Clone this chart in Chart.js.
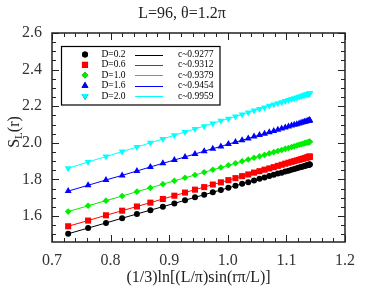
<!DOCTYPE html>
<html>
<head>
<meta charset="utf-8">
<script src="https://cdn.jsdelivr.net/npm/chart.js@4.4.0/dist/chart.umd.min.js"></script>
<style>
  html, body { margin: 0; padding: 0; background: #fff; }
</style>
</head>
<body>
<canvas id="chart" width="382" height="295"></canvas>
<script>
// x = (1/3)ln[(L/pi)sin(r pi/L)] (40 points per series)
const xVals = [0.7276, 0.7616, 0.7921, 0.8197, 0.8449, 0.8679, 0.8892, 0.9088, 0.9270, 0.9440,
               0.9597, 0.9744, 0.9882, 1.0010, 1.0131, 1.0244, 1.0349, 1.0448, 1.0541, 1.0627,
               1.0708, 1.0784, 1.0854, 1.0919, 1.0980, 1.1036, 1.1088, 1.1135, 1.1178, 1.1217,
               1.1252, 1.1283, 1.1311, 1.1334, 1.1354, 1.1370, 1.1383, 1.1392, 1.1397, 1.1399];

const sD02 = [1.503, 1.534, 1.562, 1.588, 1.611, 1.632, 1.651, 1.669, 1.686, 1.702,
              1.716, 1.730, 1.742, 1.754, 1.765, 1.776, 1.785, 1.794, 1.803, 1.811,
              1.818, 1.825, 1.832, 1.837, 1.843, 1.848, 1.853, 1.857, 1.861, 1.865,
              1.868, 1.871, 1.873, 1.876, 1.877, 1.879, 1.880, 1.881, 1.881, 1.882];
const sD06 = [1.544, 1.575, 1.604, 1.629, 1.652, 1.673, 1.693, 1.711, 1.728, 1.744,
              1.758, 1.772, 1.784, 1.796, 1.807, 1.818, 1.827, 1.837, 1.845, 1.853,
              1.860, 1.867, 1.874, 1.880, 1.886, 1.891, 1.896, 1.900, 1.904, 1.907,
              1.911, 1.913, 1.916, 1.918, 1.920, 1.922, 1.923, 1.924, 1.924, 1.924];
const sD10 = [1.624, 1.656, 1.684, 1.709, 1.733, 1.754, 1.774, 1.792, 1.809, 1.824,
              1.839, 1.853, 1.865, 1.877, 1.888, 1.899, 1.909, 1.918, 1.926, 1.934,
              1.942, 1.949, 1.955, 1.961, 1.967, 1.972, 1.977, 1.981, 1.985, 1.989,
              1.992, 1.995, 1.998, 2.000, 2.002, 2.003, 2.004, 2.005, 2.006, 2.006];
const sD16 = [1.736, 1.768, 1.797, 1.822, 1.846, 1.868, 1.888, 1.906, 1.923, 1.939,
              1.954, 1.968, 1.980, 1.993, 2.004, 2.014, 2.024, 2.034, 2.042, 2.050,
              2.058, 2.065, 2.072, 2.078, 2.083, 2.089, 2.094, 2.098, 2.102, 2.106,
              2.109, 2.112, 2.115, 2.117, 2.119, 2.120, 2.121, 2.122, 2.123, 2.123];
const sD20 = [1.861, 1.895, 1.925, 1.952, 1.977, 2.000, 2.021, 2.041, 2.059, 2.076,
              2.091, 2.106, 2.120, 2.132, 2.144, 2.155, 2.166, 2.176, 2.185, 2.193,
              2.202, 2.209, 2.216, 2.222, 2.228, 2.234, 2.239, 2.244, 2.248, 2.252,
              2.255, 2.259, 2.261, 2.264, 2.266, 2.267, 2.268, 2.269, 2.270, 2.270];

const seriesLabels = ['D=0.2', 'D=0.6', 'D=1.0', 'D=1.6', 'D=2.0'];
const fitLabels = ['c~0.9277', 'c~0.9312', 'c~0.9379', 'c~0.9454', 'c~0.9959'];
const seriesData = [sD02, sD06, sD10, sD16, sD20];

const colors = ['#000000', '#ff0000', '#00ee00', '#0000ff', '#00ffff'];
const pointStyles = ['circle', 'rect', 'rectRot', 'triangle', 'triangle'];
const pointRotations = [0, 0, 0, 0, 180];
const pointSizes = [3, 4.3, 3.3, 4, 4];

const SERIF = '"Liberation Serif", "DejaVu Serif", "Times New Roman", serif';

const datasets = seriesData.map((ys, i) => ({
    label: seriesLabels[i],
    data: xVals.map((x, k) => ({ x: x, y: ys[k] })),
    showLine: true,
    borderColor: colors[i],
    backgroundColor: colors[i],
    borderWidth: 1,
    pointStyle: pointStyles[i],
    rotation: pointRotations[i],
    pointRadius: pointSizes[i],
    pointBorderWidth: 0,
    pointBackgroundColor: colors[i]
}));

// draws frame, inward ticks, titles and the boxed legend
const decorPlugin = {
    id: 'decor',
    afterDraw(chart) {
        const ctx = chart.ctx;
        const a = chart.chartArea;
        const xs = chart.scales.x, ys = chart.scales.y;
        ctx.save();

        // frame
        ctx.strokeStyle = '#222';
        ctx.lineWidth = 1.5;
        ctx.strokeRect(a.left, a.top, a.right - a.left, a.bottom - a.top);

        // ticks on all four sides, pointing inward
        ctx.lineWidth = 1;
        ctx.beginPath();
        for (let v = 0.7; v <= 1.2001; v += 0.02) {
            const px = Math.round(xs.getPixelForValue(v)) + 0.5;
            const major = Math.abs(v * 10 - Math.round(v * 10)) < 1e-6;
            const len = major ? 7 : 4;
            ctx.moveTo(px, a.bottom); ctx.lineTo(px, a.bottom - len);
            ctx.moveTo(px, a.top); ctx.lineTo(px, a.top + len);
        }
        for (let v = 1.5; v <= 2.6001; v += 0.05) {
            if (v < ys.min) continue;
            const py = Math.round(ys.getPixelForValue(v)) + 0.5;
            const major = Math.abs(v * 5 - Math.round(v * 5)) < 1e-6;
            const len = major ? 7 : 4;
            ctx.moveTo(a.left, py); ctx.lineTo(a.left + len, py);
            ctx.moveTo(a.right, py); ctx.lineTo(a.right - len, py);
        }
        ctx.stroke();

        // title
        ctx.fillStyle = '#222';
        ctx.textBaseline = 'middle';
        ctx.textAlign = 'center';
        ctx.font = '16px ' + SERIF;
        ctx.fillText('L=96, \u03b8=1.2\u03c0', 182, 14);

        // x title
        ctx.fillText('(1/3)ln[(L/\u03c0)sin(r\u03c0/L)]', (a.left + a.right) / 2, 278);

        // y title S_L(r), rotated
        ctx.save();
        ctx.translate(19, 132);
        ctx.rotate(-Math.PI / 2);
        ctx.textBaseline = 'alphabetic';
        ctx.textAlign = 'left';
        const big = '16px ' + SERIF, small = '11px ' + SERIF;
        ctx.font = big; const wS = ctx.measureText('S').width;
        ctx.font = small; const wL = ctx.measureText('L').width;
        ctx.font = big; const wR = ctx.measureText('(r)').width;
        let x0 = -(wS + wL + wR) / 2;
        ctx.font = big; ctx.fillText('S', x0, 0); x0 += wS;
        ctx.font = small; ctx.fillText('L', x0, 3); x0 += wL;
        ctx.font = big; ctx.fillText('(r)', x0, 0);
        ctx.restore();

        // legend box
        ctx.strokeStyle = '#000';
        ctx.lineWidth = 1.2;
        ctx.strokeRect(61.5, 46.5, 158.5, 58.5);
        ctx.font = '9.5px ' + SERIF;
        ctx.textAlign = 'left';
        ctx.textBaseline = 'middle';
        ctx.fillStyle = '#000';
        for (let i = 0; i < seriesLabels.length; i++) {
            const yy = 54.5 + i * 10.4;
            Chart.helpers.drawPoint(ctx, {
                pointStyle: pointStyles[i],
                rotation: pointRotations[i],
                radius: pointSizes[i],
                borderWidth: 0
            }, 85, yy);
            ctx.fillStyle = colors[i];
            ctx.fill();
            ctx.fillStyle = '#000';
            ctx.fillText(seriesLabels[i], 101.5, yy);
            ctx.strokeStyle = colors[i];
            ctx.lineWidth = 1;
            ctx.beginPath();
            ctx.moveTo(135, Math.round(yy) + 0.5);
            ctx.lineTo(163, Math.round(yy) + 0.5);
            ctx.stroke();
            ctx.fillText(fitLabels[i], 178, yy);
        }
        ctx.restore();
    }
};

new Chart(document.getElementById('chart'), {
    type: 'scatter',
    data: { datasets: datasets },
    options: {
        responsive: false,
        animation: false,
        events: [],
        layout: { padding: { left: 0, right: 37, top: 33, bottom: 0 } },
        plugins: {
            legend: { display: false },
            title: { display: false },
            tooltip: { enabled: false }
        },
        scales: {
            x: {
                type: 'linear',
                min: 0.7,
                max: 1.2,
                grid: { display: false, drawTicks: false },
                border: { display: false },
                ticks: {
                    stepSize: 0.1,
                    padding: 9,
                    color: '#333',
                    font: { family: SERIF, size: 16 },
                    maxRotation: 0,
                    callback: v => Number(v).toFixed(1)
                },
                afterFit: s => { s.height = 53; }
            },
            y: {
                type: 'linear',
                min: 1.458,
                max: 2.6,
                grid: { display: false, drawTicks: false },
                border: { display: false },
                ticks: {
                    stepSize: 0.2,
                    includeBounds: false,
                    padding: 10,
                    color: '#333',
                    font: { family: SERIF, size: 16 },
                    callback: v => Number(v).toFixed(1)
                },
                afterFit: s => { s.width = 52; }
            }
        }
    },
    plugins: [decorPlugin]
});
</script>
</body>
</html>
